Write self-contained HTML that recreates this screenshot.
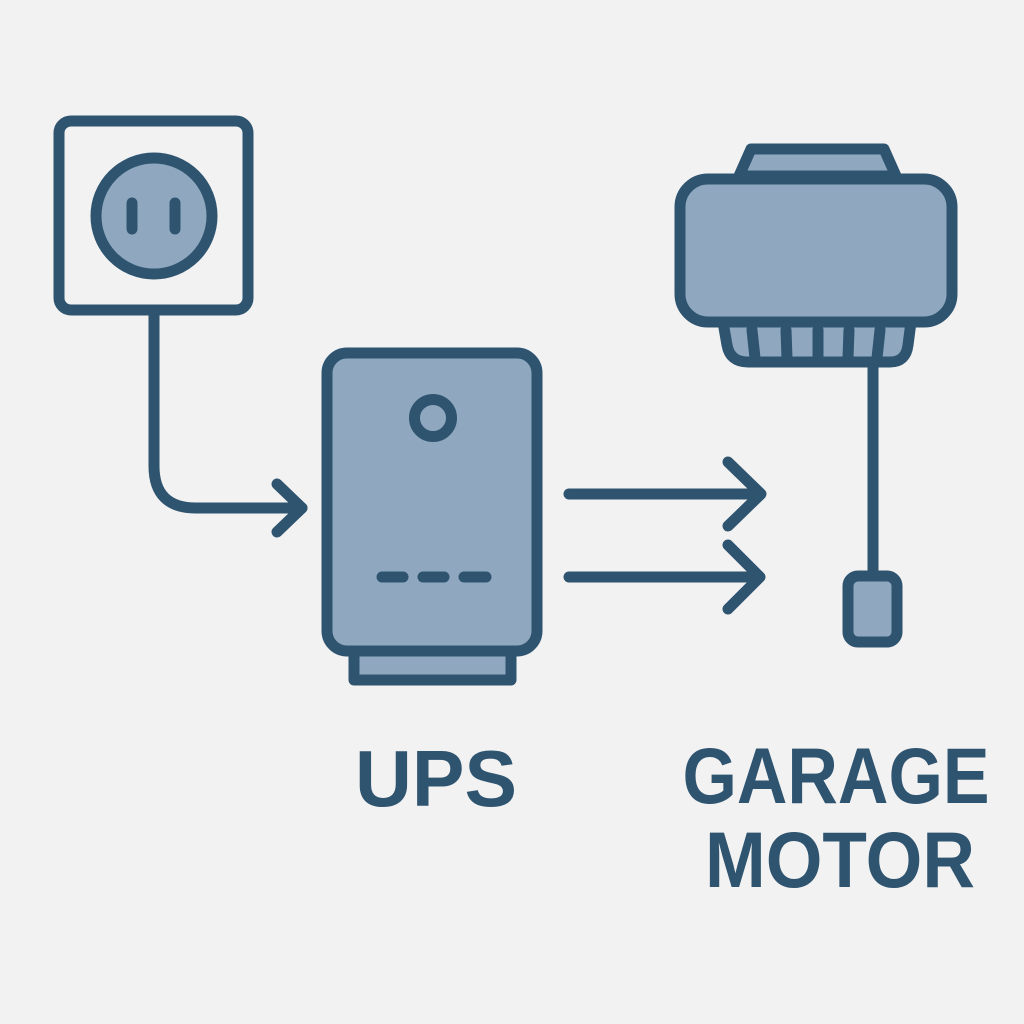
<!DOCTYPE html>
<html><head><meta charset="utf-8"><style>
html,body{margin:0;padding:0;background:#f2f2f2;}
svg{display:block}
text{font-family:"Liberation Sans",sans-serif;font-weight:bold;fill:#2f5470}
</style></head><body>
<svg width="1024" height="1024" viewBox="0 0 1024 1024" xmlns="http://www.w3.org/2000/svg">
<rect width="1024" height="1024" fill="#f2f2f2"/>
<g stroke="#2f5470" stroke-width="11" stroke-linecap="round" stroke-linejoin="round">
<!-- outlet -->
<rect x="59" y="121" width="189" height="189" rx="12" fill="#f2f2f2"/>
<circle cx="154" cy="216" r="58" fill="#8fa8bf"/>
<line x1="132" y1="203" x2="132" y2="229"/>
<line x1="175" y1="203" x2="175" y2="229"/>
<path d="M154 315 V466 Q154 508 196 508 H302" fill="none"/>
<path d="M277 484 L302 508 L277 532" fill="none"/>
<!-- UPS -->
<rect x="354" y="650" width="157" height="30" fill="#8fa8bf"/>
<rect x="327" y="353" width="210" height="298" rx="20" fill="#8fa8bf"/>
<circle cx="433" cy="418" r="18.5" fill="#8fa8bf"/>
<line x1="382" y1="577" x2="403" y2="577"/>
<line x1="423" y1="577" x2="444" y2="577"/>
<line x1="464" y1="577" x2="486" y2="577"/>
<!-- arrows -->
<line x1="569" y1="494" x2="760" y2="494"/>
<path d="M728 462 L761 494 L728 526" fill="none"/>
<line x1="569" y1="577" x2="759" y2="577"/>
<path d="M728 545 L760 577 L728 609" fill="none"/>
<!-- motor -->
<path d="M739 176 L751 149 L884 149 L896 176 Z" fill="#8fa8bf"/>
<path d="M723 322 L727 345 Q730 362 748 362 H890 Q906 362 908 345 L911 322 Z" fill="#8fa8bf"/>
<line x1="752" y1="330" x2="755" y2="358"/>
<line x1="786" y1="330" x2="787" y2="358"/>
<line x1="818" y1="330" x2="818" y2="358"/>
<line x1="849" y1="330" x2="848" y2="358"/>
<line x1="880" y1="330" x2="877" y2="358"/>
<rect x="680" y="179" width="272" height="143" rx="28" fill="#8fa8bf"/>
<line x1="873" y1="366" x2="873" y2="572"/>
<rect x="848" y="576" width="49" height="66" rx="10" fill="#8fa8bf"/>
</g>
<text x="436" y="806" font-size="80" text-anchor="middle" textLength="162" lengthAdjust="spacingAndGlyphs">UPS</text>
<text x="836" y="803" font-size="79" text-anchor="middle" textLength="307" lengthAdjust="spacingAndGlyphs">GARAGE</text>
<text x="840" y="887" font-size="79" text-anchor="middle" textLength="270" lengthAdjust="spacingAndGlyphs">MOTOR</text>
</svg>
</body></html>
